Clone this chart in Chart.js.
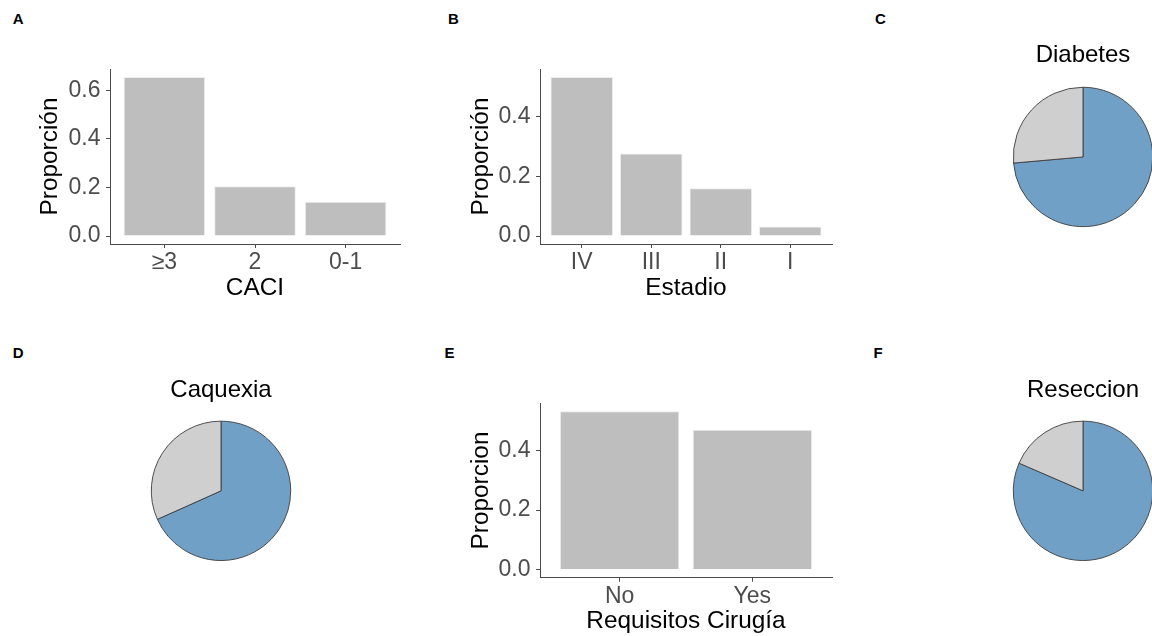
<!DOCTYPE html>
<html>
<head>
<meta charset="utf-8">
<script src="https://cdn.jsdelivr.net/npm/chart.js@4"></script>
<style>
  html, body { margin: 0; padding: 0; background: #fff; width: 1152px; height: 636px; overflow: hidden; }
  body { position: relative; }
  canvas { position: absolute; }
  .tag { position: absolute; font: bold 15px/15px 'Liberation Sans', Arial, sans-serif; color: #000; }
</style>
</head>
<body>
<div class="tag" style="left:12.7px;top:11.3px">A</div>
<div class="tag" style="left:448px;top:11.3px">B</div>
<div class="tag" style="left:875px;top:11.3px">C</div>
<div class="tag" style="left:12.7px;top:344.7px">D</div>
<div class="tag" style="left:444.5px;top:344.7px">E</div>
<div class="tag" style="left:873.5px;top:344.7px">F</div>

<canvas id="pA" width="420" height="318" style="left:0px;top:0px"></canvas>
<canvas id="pB" width="420" height="318" style="left:420px;top:0px"></canvas>
<canvas id="pC" width="200" height="234" style="left:983px;top:0px"></canvas>
<canvas id="pD" width="200" height="247" style="left:121px;top:320px"></canvas>
<canvas id="pE" width="420" height="316" style="left:420px;top:320px"></canvas>
<canvas id="pF" width="200" height="247" style="left:983px;top:320px"></canvas>

<script>
// ---- data ----
const caciLabels = ['≥3', '2', '0-1'];
const caciProp = [0.655, 0.205, 0.141];

const estadioLabels = ['IV', 'III', 'II', 'I'];
const estadioProp = [0.532, 0.276, 0.160, 0.032];

const cirugiaLabels = ['No', 'Yes'];
const cirugiaProp = [0.531, 0.469];

const pieSlices = ['mayoritario', 'minoritario'];
const diabetesProp = [0.736, 0.264];
const caquexiaProp = [0.683, 0.317];
const reseccionProp = [0.815, 0.185];

const yTickStep = 0.2;

// ---- styling ----
const FONT = "'Liberation Sans', Arial, sans-serif";
const BAR_FILL = '#bebebe';
const BAR_EDGE = '#ececec';
const AXIS = '#4a4a4a';
const TICK_TXT = '#4d4d4d';
const PIE_COLORS = ['#71a0c7', '#cfcfcf'];
const PIE_EDGE = '#3d3d3d';

Chart.defaults.font.family = FONT;
Chart.defaults.animation = false;

function barPanel(id, cats, vals, xTitle, yTitle, g) {
  const top = Math.max(...vals);
  const n = cats.length;
  return new Chart(document.getElementById(id), {
    type: 'bar',
    data: {
      datasets: [{
        data: vals.map((v, i) => ({ x: i, y: v })),
        backgroundColor: BAR_FILL,
        borderColor: BAR_EDGE,
        borderWidth: 1,
        barPercentage: 0.9,
        categoryPercentage: 1.0
      }]
    },
    options: {
      responsive: false,
      layout: { padding: { top: g.padTop, right: g.padRight, bottom: 0, left: 0 } },
      plugins: { legend: { display: false }, tooltip: { enabled: false } },
      scales: {
        x: {
          type: 'linear',
          offset: false,
          min: -0.6,
          max: n - 1 + 0.6,
          afterBuildTicks: s => { s.ticks = cats.map((c, i) => ({ value: i })); },
          afterFit: s => { s.height = g.xHeight; },
          ticks: {
            callback: v => cats[v],
            color: TICK_TXT,
            font: { size: 23 },
            padding: 1,
            maxRotation: 0,
            autoSkip: false
          },
          grid: { display: true, offset: false, drawOnChartArea: false, drawTicks: true, tickLength: 4, color: AXIS, lineWidth: 1 },
          border: { display: true, color: AXIS, width: 1 },
          title: { display: true, text: xTitle, color: '#000', font: { size: 24.4 }, padding: { top: 0, bottom: g.xTitlePad } }
        },
        y: {
          type: 'linear',
          min: -0.05 * top,
          max: 1.05 * top,
          afterBuildTicks: s => {
            s.ticks = s.ticks.filter(t => t.value > -1e-9 &&
              Math.abs(t.value / yTickStep - Math.round(t.value / yTickStep)) < 1e-6);
          },
          afterFit: s => { s.width = g.yWidth; },
          ticks: {
            stepSize: yTickStep,
            includeBounds: false,
            callback: v => Number(v).toFixed(1),
            color: TICK_TXT,
            font: { size: 23 },
            padding: 5.5
          },
          grid: { display: true, drawOnChartArea: false, drawTicks: true, tickLength: 4, color: AXIS, lineWidth: 1 },
          border: { display: true, color: AXIS, width: 1 },
          title: { display: true, text: yTitle, color: '#000', font: { size: 24.4 }, padding: { top: g.yTitlePad, bottom: 0 } }
        }
      }
    }
  });
}

function piePanel(id, vals, title, padTop) {
  return new Chart(document.getElementById(id), {
    type: 'pie',
    data: {
      labels: pieSlices,
      datasets: [{
        data: vals,
        backgroundColor: PIE_COLORS,
        borderColor: PIE_EDGE,
        borderWidth: 0.9,
        radius: 69.7,
        hoverOffset: 0
      }]
    },
    options: {
      responsive: false,
      plugins: {
        legend: { display: false },
        tooltip: { enabled: false },
        title: {
          display: true,
          text: title,
          color: '#000',
          font: { size: 24, weight: 'normal' },
          padding: { top: padTop, bottom: 10 }
        }
      }
    }
  });
}

barPanel('pA', caciLabels, caciProp, 'CACI', 'Proporción',
  { padTop: 69, padRight: 20, xHeight: 74, yWidth: 110, xTitlePad: 15.4, yTitlePad: 35.4 });
barPanel('pB', estadioLabels, estadioProp, 'Estadio', 'Proporción',
  { padTop: 69, padRight: 8, xHeight: 74, yWidth: 120, xTitlePad: 15.4, yTitlePad: 47.1 });
barPanel('pE', cirugiaLabels, cirugiaProp, 'Requisitos Cirugía', 'Proporcion',
  { padTop: 83.3, padRight: 8, xHeight: 58.3, yWidth: 120, xTitlePad: 0, yTitlePad: 47.1 });

piePanel('pC', diabetesProp, 'Diabetes', 41.1);
piePanel('pD', caquexiaProp, 'Caquexia', 55.9);
piePanel('pF', reseccionProp, 'Reseccion', 55.9);
</script>
</body>
</html>
